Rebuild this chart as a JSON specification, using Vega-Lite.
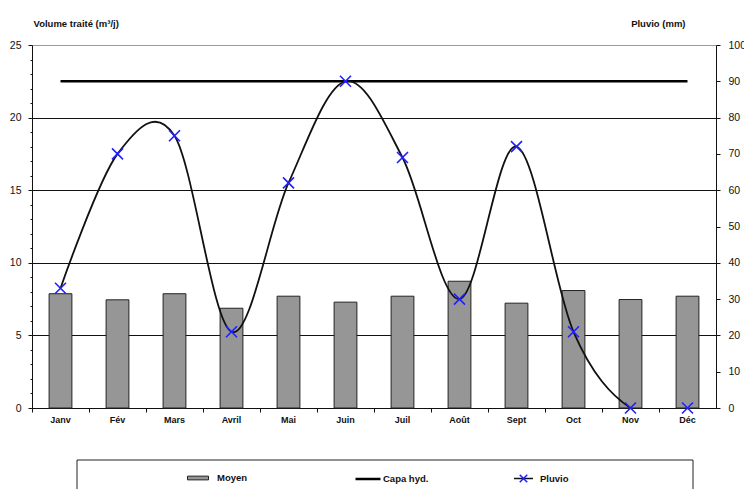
{
  "$schema": "https://vega.github.io/schema/vega-lite/v6.json",
  "width": 684,
  "height": 363,
  "autosize": {"type": "none"},
  "padding": {"left": 32, "top": 45, "right": 28, "bottom": 81},
  "background": "white",
  "config": {
    "font": "Liberation Sans",
    "view": {"stroke": null},
    "axis": {"labelFont": "Liberation Sans", "titleFont": "Liberation Sans", "domainColor": "#111", "tickColor": "#111", "labelColor": "#111", "titleColor": "#111"},
    "legend": {"labelFont": "Liberation Sans", "labelFontSize": 9.5, "labelFontWeight": "bold", "labelColor": "#111", "padding": 0, "orient": "none"}
  },
  "data": {
    "values": [
      {"mois": "Janv", "moyen": 7.87, "capa": 22.5, "pluvio": 33},
      {"mois": "Fév", "moyen": 7.45, "capa": 22.5, "pluvio": 70},
      {"mois": "Mars", "moyen": 7.87, "capa": 22.5, "pluvio": 75},
      {"mois": "Avril", "moyen": 6.87, "capa": 22.5, "pluvio": 21},
      {"mois": "Mai", "moyen": 7.7, "capa": 22.5, "pluvio": 62},
      {"mois": "Juin", "moyen": 7.29, "capa": 22.5, "pluvio": 90},
      {"mois": "Juil", "moyen": 7.7, "capa": 22.5, "pluvio": 69},
      {"mois": "Août", "moyen": 8.73, "capa": 22.5, "pluvio": 30},
      {"mois": "Sept", "moyen": 7.22, "capa": 22.5, "pluvio": 72},
      {"mois": "Oct", "moyen": 8.09, "capa": 22.5, "pluvio": 21},
      {"mois": "Nov", "moyen": 7.47, "capa": 22.5, "pluvio": 0},
      {"mois": "Déc", "moyen": 7.7, "capa": 22.5, "pluvio": 0}
    ]
  },
  "encoding": {
    "x": {
      "field": "mois",
      "type": "ordinal",
      "sort": ["Janv", "Fév", "Mars", "Avril", "Mai", "Juin", "Juil", "Août", "Sept", "Oct", "Nov", "Déc"],
      "scale": {"paddingInner": 0, "paddingOuter": 0},
      "axis": {"title": null, "labelAngle": 0, "bandPosition": 0, "tickSize": 4, "labelPadding": 3, "labelFontSize": 9, "labelFontWeight": "bold", "domainWidth": 1.2}
    }
  },
  "layer": [
    {
      "layer": [
        {
          "mark": {"type": "bar", "width": {"band": 0.4}, "strokeWidth": 1},
          "encoding": {
            "y": {
              "field": "moyen",
              "type": "quantitative",
              "title": "Volume traité (m³/j)",
              "scale": {"domain": [0, 25], "nice": false, "zero": true},
              "axis": {
                "orient": "left",
                "tickCount": 40,
                "format": "d",
                "values": [0, 1, 2, 3, 4, 5, 6, 7, 8, 9, 10, 11, 12, 13, 14, 15, 16, 17, 18, 19, 20, 21, 22, 23, 24, 25],
                "labelExpr": "datum.value % 5 === 0 ? datum.label : ''",
                "labelOverlap": false,
                "tickSize": {"condition": {"test": "datum.value % 5 === 0", "value": 4}, "value": 2},
                "grid": true,
                "gridColor": {"condition": {"test": "datum.value === 25", "value": "#9a9a9a"}, "value": "#111"},
                "gridOpacity": {"condition": {"test": "datum.value % 5 === 0", "value": 1}, "value": 0},
                "labelPadding": 7,
                "labelFontSize": 10.5,
                "titleAngle": 0,
                "titleX": 1,
                "titleY": -19,
                "titleAlign": "left",
                "titleBaseline": "alphabetic",
                "titleFontSize": 9.5,
                "titleFontWeight": "bold"
              }
            },
            "fill": {
              "field": "moyen",
              "type": "quantitative",
              "scale": {"range": ["#969696", "#969696"]},
              "legend": {
                "title": null,
                "direction": "horizontal",
                "legendX": 45,
                "legendY": 415,
                "gradientLength": 616,
                "gradientThickness": 40,
                "gradientStrokeColor": "#222",
                "gradientStrokeWidth": 1,
                "values": [],
                "encode": {"gradient": {"update": {"fill": {"value": "transparent"}}}}
              }
            },
            "stroke": {
              "datum": "Moyen",
              "scale": {"range": ["#222"]},
              "legend": {
                "title": null,
                "legendX": 153,
                "legendY": 420,
                "symbolType": "M-0.84,-0.15H0.84V0.15H-0.84Z",
                "symbolSize": 625,
                "symbolFillColor": "#969696",
                "symbolStrokeColor": "#222",
                "symbolStrokeWidth": 1,
                "labelOffset": 6,
                "encode": {"symbols": {"update": {"fill": {"value": "#969696"}, "stroke": {"value": "#222"}, "strokeWidth": {"value": 1}, "opacity": {"value": 1}}}}
              }
            }
          }
        },
        {
          "mark": {"type": "line", "strokeWidth": 2.6, "color": "#000"},
          "encoding": {
            "y": {"field": "capa", "type": "quantitative", "title": "Volume traité (m³/j)", "scale": {"domain": [0, 25], "nice": false}},
            "strokeDash": {
              "datum": "Capa hyd.",
              "scale": {"range": [[1, 0]]},
              "legend": {
                "title": null,
                "legendX": 322,
                "legendY": 420,
                "symbolType": "M-1,0H1",
                "symbolSize": 625,
                "symbolStrokeColor": "#000",
                "symbolStrokeWidth": 2.5,
                "labelOffset": 1,
                "encode": {"symbols": {"update": {"stroke": {"value": "#000"}, "strokeWidth": {"value": 2.5}, "opacity": {"value": 1}}}}
              }
            }
          }
        }
      ]
    },
    {
      "layer": [
        {
          "mark": {"type": "line", "interpolate": "cardinal", "clip": true, "strokeWidth": 1.8},
          "encoding": {
            "y": {
              "field": "pluvio",
              "type": "quantitative",
              "title": "Pluvio (mm)",
              "scale": {"domain": [0, 100], "nice": false},
              "axis": {
                "orient": "right",
                "tickCount": 20,
                "format": "d",
                "values": [0, 10, 20, 30, 40, 50, 60, 70, 80, 90, 100],
                "labelOverlap": false,
                "grid": false,
                "tickSize": 4,
                "labelPadding": 8,
                "labelFontSize": 10.5,
                "titleAngle": 0,
                "titleX": -31,
                "titleY": -19,
                "titleAlign": "right",
                "titleBaseline": "alphabetic",
                "titleFontSize": 9.5,
                "titleFontWeight": "bold"
              }
            },
            "color": {
              "datum": "Pluvio",
              "scale": {"range": ["#111"]},
              "legend": {
                "title": null,
                "legendX": 478,
                "legendY": 420,
                "symbolType": "M-0.76,0H0.76",
                "symbolSize": 625,
                "symbolStrokeWidth": 1.5,
                "labelOffset": 3,
                "encode": {"symbols": {"update": {"stroke": {"value": "#111"}, "strokeWidth": {"value": 1.5}, "opacity": {"value": 1}}}}
              }
            }
          }
        },
        {
          "mark": {"type": "point", "shape": "M-1,-1L1,1M-1,1L1,-1", "filled": false, "size": 121, "strokeWidth": 1.6, "color": "#2020ff"},
          "encoding": {
            "y": {"field": "pluvio", "type": "quantitative", "title": "Pluvio (mm)", "scale": {"domain": [0, 100], "nice": false}},
            "opacity": {
              "datum": "Pluvio (mm)",
              "type": "ordinal",
              "scale": {"range": [1]},
              "legend": {
                "title": null,
                "legendX": 478,
                "legendY": 420,
                "symbolType": "M-0.3,-0.3L0.3,0.3M-0.3,0.3L0.3,-0.3",
                "symbolSize": 625,
                "symbolStrokeColor": "#2020ff",
                "symbolStrokeWidth": 1.5,
                "symbolFillColor": "transparent",
                "labelExpr": "''",
                "labelOffset": 3,
                "encode": {"symbols": {"update": {"stroke": {"value": "#2020ff"}, "strokeWidth": {"value": 1.5}, "fill": {"value": "transparent"}}}}
              }
            }
          }
        }
      ]
    }
  ],
  "resolve": {"scale": {"y": "independent"}}
}
